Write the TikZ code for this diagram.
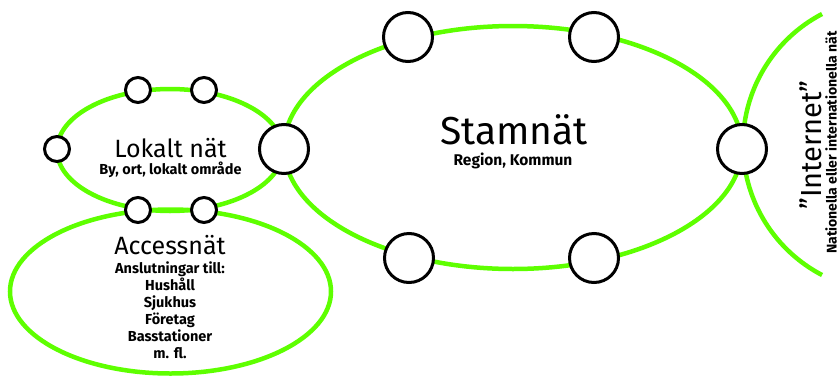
\documentclass[tikz,border=0pt]{standalone}
\usepackage{fontspec}
\setmainfont{Fira Sans}
\definecolor{netgreen}{RGB}{94,255,0}
\tikzset{
  ring/.style={draw=netgreen, line width=4.5pt},
  hub/.style={circle, draw=black, fill=white, line width=3pt, inner sep=0pt, minimum size=49pt},
  port/.style={hub, minimum size=25pt},
  title/.style={anchor=base, inner sep=0pt, font=\fontsize{25}{30}\selectfont},
  bigtitle/.style={title, font=\fontsize{39}{46}\selectfont},
  sub/.style={anchor=base, inner sep=0pt, font=\bfseries\fontsize{14.5}{17}\selectfont},
}
\begin{document}
\begin{tikzpicture}[x=1pt,y=-1pt]
  \path[use as bounding box, fill=white] (0,0) rectangle (840,378);

  % network rings
  \draw[ring] (170,150) ellipse[x radius=113pt, y radius=61pt];
  \draw[ring] (170.5,291.5) ellipse[x radius=160.5pt, y radius=82pt];
  \draw[ring] (513,147.5) ellipse[x radius=229pt, y radius=121.5pt];
  \draw[ring] plot[domain=117.6:242.4, samples=80] ({890.3+147.3*cos(\x)},{144.5+147.3*sin(\x)});

  % local network ports
  \node[port] (l1) at (57,149) {};
  \node[port] (l2) at (138,90) {};
  \node[port] (l3) at (204,90) {};
  \node[port] (a1) at (138,210) {};
  \node[port] (a2) at (204,210) {};

  % backbone hubs
  \node[hub] (s1) at (284,149) {};
  \node[hub] (s2) at (408,37) {};
  \node[hub] (s3) at (594,37) {};
  \node[hub] (s4) at (409,258) {};
  \node[hub] (s5) at (594,258) {};
  \node[hub] (s6) at (742,149) {};

  % labels
  \node[title] (lokalt) at (170.5,157) {Lokalt nät};
  \node[sub] (lokaltsub) at (170.5,174) {By, ort, lokalt område};

  \node[title] (access) at (170,254) {Accessnät};
  \node[sub] (acc1) at (170,273) {Anslutningar till:};
  \node[sub] (acc2) at (170,290) {Hushåll};
  \node[sub] (acc3) at (170,307) {Sjukhus};
  \node[sub] (acc4) at (170,324) {Företag};
  \node[sub] (acc5) at (170,341) {Basstationer};
  \node[sub] (acc6) at (170,358) {m. fl.};

  \node[bigtitle] (stam) at (514,144) {Stamnät};
  \node[sub, font=\bfseries\fontsize{15.5}{18}\selectfont] (stamsub) at (513,165) {Region, Kommun};

  \node[title, font=\fontsize{29}{34}\selectfont, rotate=90] (inet) at (821,145) {”Internet”};
  \node[sub, font=\bfseries\fontsize{14}{17}\selectfont, rotate=90] (inetsub) at (836.5,142.5) {Nationella eller internationella nät};
\end{tikzpicture}
\end{document}
